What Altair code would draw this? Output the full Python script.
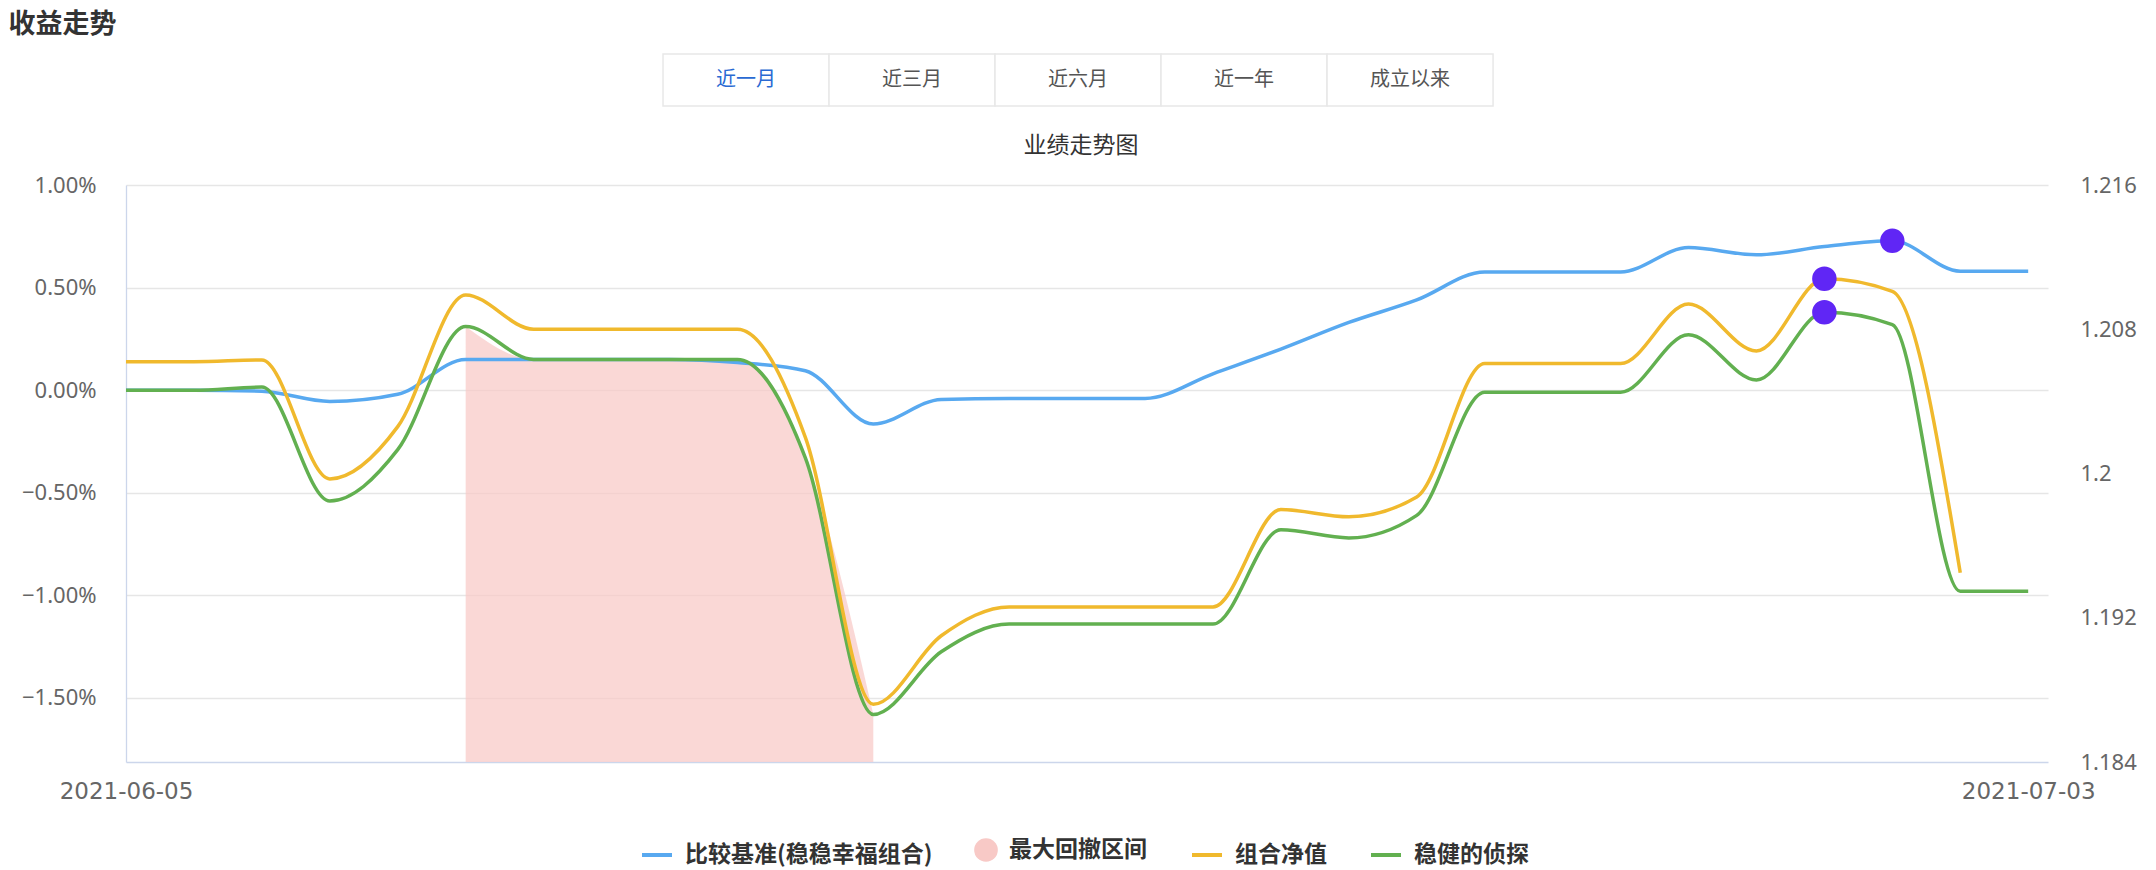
import altair as alt
import pandas as pd

# ---------------- data ----------------
dates = [d.strftime("%Y-%m-%d") for d in pd.date_range("2021-06-05", "2021-07-03", freq="D")]

# 比较基准(稳稳幸福组合) – cumulative return, %
benchmark = [0.00, 0.00, -0.005, -0.055, -0.02, 0.15, 0.15, 0.15, 0.15, 0.135,
             0.095, -0.165, -0.045, -0.04, -0.04, -0.04, 0.08, 0.20, 0.33, 0.44,
             0.576, 0.576, 0.576, 0.695, 0.66, 0.70, 0.728, 0.58, 0.58]

# 稳健的侦探 – cumulative return, %
detective = [0.00, 0.00, 0.015, -0.54, -0.29, 0.31, 0.15, 0.15, 0.15, 0.15,
             -0.33, -1.58, -1.275, -1.14, -1.14, -1.14, -1.14, -0.68, -0.72, -0.61,
             -0.01, -0.01, -0.01, 0.27, 0.05, 0.38, 0.32, -0.98, -0.98]

# 组合净值 – net value (right axis)
nav = [1.2062, 1.2062, 1.2063, 1.1997, 1.2026, 1.2099, 1.2080, 1.2080, 1.2080, 1.2080,
       1.2020, 1.1872, 1.1910, 1.1926, 1.1926, 1.1926, 1.1926, 1.1980, 1.1976, 1.1987,
       1.2061, 1.2061, 1.2061, 1.2094, 1.2068, 1.2108, 1.2101, 1.1945, None]

series_names = ["比较基准(稳稳幸福组合)", "最大回撤区间", "组合净值", "稳健的侦探"]
series_colors = ["#58a9f0", "#f8c9c6", "#f0b92d", "#62b050"]
marker_color = "#6026f5"

drawdown_start = "2021-06-10"
drawdown_end = "2021-06-16"

buttons = ["近一月", "近三月", "近六月", "近一年", "成立以来"]
active_button = "近一月"

left_ticks = [-1.5, -1.0, -0.5, 0.0, 0.5, 1.0]
left_domain = [-1.812, 1.0]
right_ticks = [1.184, 1.192, 1.2, 1.208, 1.216]
right_domain = [1.184, 1.216]

# ---------------- tables ----------------
bench_df = pd.DataFrame({"date": dates, "value": benchmark, "series": series_names[0]})
det_df = pd.DataFrame({"date": dates, "value": detective, "series": series_names[3]})
nav_df = pd.DataFrame({"date": dates, "value": nav, "series": series_names[2]}).dropna()
dd_df = det_df[(det_df["date"] >= drawdown_start) & (det_df["date"] <= drawdown_end)].copy()
dd_df["series"] = series_names[1]
bench_max = pd.DataFrame([bench_df.loc[bench_df["value"].idxmax()]])
det_max = pd.DataFrame([det_df.loc[det_df["value"].idxmax()]])
nav_max = pd.DataFrame([nav_df.loc[nav_df["value"].astype(float).idxmax()]])
left_max = pd.concat([bench_max, det_max], ignore_index=True)
btn_df = pd.DataFrame({"label": buttons, "idx": list(range(len(buttons))),
                       "active": [b == active_button for b in buttons]})

# ---------------- encodings ----------------
GRAY = "#666666"
AXIS_LINE = "#ccd6eb"

x_enc = alt.X(
    "date:T",
    scale=alt.Scale(type="utc", domain=[alt.DateTime(year=2021, month=6, date=5, utc=True),
                                        alt.DateTime(year=2021, month=7, date=3, hours=7, utc=True)]),
    axis=alt.Axis(values=[alt.DateTime(year=2021, month=6, date=5, utc=True),
                          alt.DateTime(year=2021, month=7, date=3, utc=True)],
                  format="%Y-%m-%d", title=None, grid=False, ticks=False, labelFlush=False,
                  labelAngle=0, labelFont="DejaVu Sans", labelFontSize=23, labelColor=GRAY,
                  labelPadding=18, domainColor=AXIS_LINE, domainWidth=1.5),
)

y_left = alt.Y(
    "value:Q", stack=None,
    scale=alt.Scale(domain=left_domain, nice=False, zero=False),
    axis=alt.Axis(orient="left", values=left_ticks, labelExpr="format(datum.value, '.2f') + '%'",
                  title=None, grid=True, gridColor="#e6e6e6", gridWidth=1.3, ticks=False,
                  domain=True, domainColor=AXIS_LINE, domainWidth=1.3,
                  labelFont="Noto Sans", labelFontSize=22, labelColor=GRAY, labelPadding=30),
)

y_right = alt.Y(
    "value:Q", stack=None,
    scale=alt.Scale(domain=right_domain, nice=False, zero=False),
    axis=alt.Axis(orient="right", values=right_ticks, format=".3~f", title=None, grid=False,
                  ticks=False, domain=False, labelFont="Noto Sans", labelFontSize=22,
                  labelColor=GRAY, labelPadding=32),
)

LEG_Y = 653
leg_common = dict(title=None, orient="none", legendY=LEG_Y, direction="horizontal",
                  labelFont="Noto Sans CJK SC", labelFontSize=23, labelFontWeight="bold",
                  labelColor="#333333", labelOffset=11, labelLimit=400, padding=0)

stroke_bench = alt.Stroke(
    "series:N", scale=alt.Scale(domain=[series_names[0]], range=[series_colors[0]]),
    legend=alt.Legend(legendX=514, symbolType="stroke", symbolSize=900, symbolStrokeWidth=4,
                      **leg_common))
fill_dd = alt.Fill(
    "series:N", scale=alt.Scale(domain=[series_names[1]], range=[series_colors[1]]),
    legend=alt.Legend(legendX=848, symbolType="circle", symbolSize=560, symbolStrokeWidth=0,
                      symbolOpacity=1, **leg_common))
color_rest = alt.Color(
    "series:N", scale=alt.Scale(domain=series_names[2:], range=series_colors[2:]),
    legend=alt.Legend(legendX=1064, symbolType="stroke", symbolSize=900, symbolStrokeWidth=4,
                      columnPadding=36, **leg_common))

# ---------------- main chart ----------------
area = alt.Chart(dd_df).mark_area(interpolate="monotone", opacity=0.72).encode(
    x=x_enc, y=y_left, y2=alt.datum(left_domain[0]), fill=fill_dd)
bench_line = alt.Chart(bench_df).mark_line(interpolate="monotone", strokeWidth=3.5).encode(
    x=x_enc, y=y_left, stroke=stroke_bench)
det_line = alt.Chart(det_df).mark_line(interpolate="monotone", strokeWidth=3.5).encode(
    x=x_enc, y=y_left, color=color_rest)
pts_left = alt.Chart(left_max).mark_circle(size=600, color=marker_color, opacity=1).encode(
    x=x_enc, y=y_left)

nav_line = alt.Chart(nav_df).mark_line(interpolate="monotone", strokeWidth=3.5).encode(
    x=x_enc, y=y_right, color=color_rest)
nav_pt = alt.Chart(nav_max).mark_circle(size=600, color=marker_color, opacity=1).encode(
    x=x_enc, y=y_right)

left_layer = alt.layer(area, bench_line, det_line, pts_left)
right_layer = alt.layer(nav_line, nav_pt)

main = alt.layer(left_layer, right_layer).resolve_scale(y="independent").properties(
    width=1922, height=577,
    title=alt.TitleParams("业绩走势图", font="Noto Sans CJK SC", fontSize=23, fontWeight="normal",
                          color="#333333", anchor="middle", frame="group", dx=-6, offset=16),
)

# ---------------- period buttons ----------------
bx = alt.Scale(domain=[-3.235, 8.343], nice=False, zero=False)
rects = alt.Chart(btn_df).mark_rect(fill="white", stroke="#e8e8e8", strokeWidth=1.5).encode(
    x=alt.X("idx:Q", scale=bx, axis=None), x2="end:Q"
).transform_calculate(end="datum.idx + 1")
texts = alt.Chart(btn_df).mark_text(font="Noto Sans CJK SC", fontSize=20).encode(
    x=alt.X("mid:Q", scale=bx, axis=None), text="label:N",
    color=alt.condition("datum.active", alt.value("#2a6ad3"), alt.value("#555555")),
).transform_calculate(mid="datum.idx + 0.5")
buttons_chart = alt.layer(rects, texts).properties(width=1922, height=52)

chart = alt.vconcat(buttons_chart, main, spacing=79, bounds="flush").resolve_scale(
    color="independent", fill="independent", stroke="independent").resolve_legend(
    color="independent", fill="independent", stroke="independent").properties(
    title=alt.TitleParams("收益走势", anchor="start", font="Noto Sans CJK SC", fontSize=27,
                          fontWeight="bold", color="#333333", dx=-13, offset=14),
    padding={"left": 0, "top": 3, "right": 4, "bottom": 12},
).configure_view(stroke=None)

chart.save("out.html", embed_options={"renderer": "svg", "actions": False})
